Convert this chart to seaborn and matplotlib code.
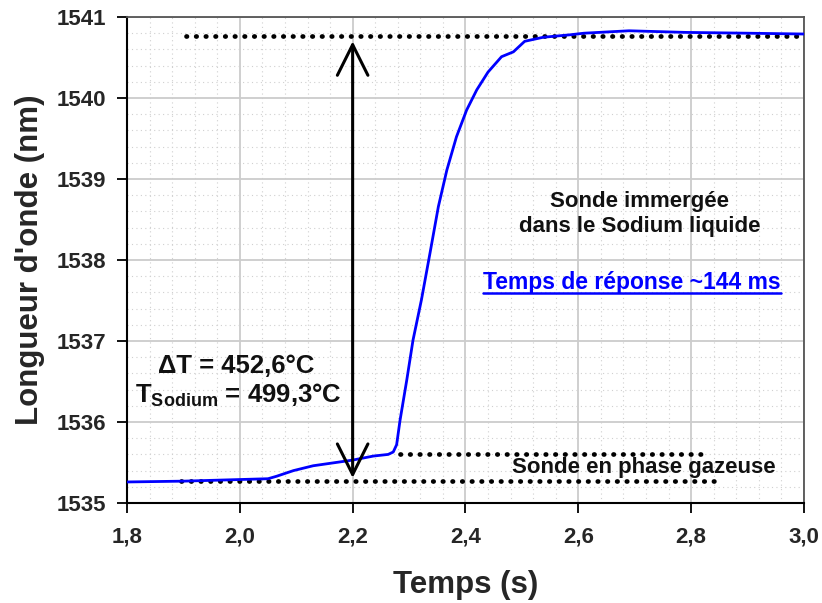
import numpy as np
import pandas as pd
import matplotlib
matplotlib.use("Agg")
import matplotlib.pyplot as plt
from matplotlib.lines import Line2D
from matplotlib.ticker import MultipleLocator
import seaborn as sns

# -----------------------------------------------------------
# Data
# -----------------------------------------------------------
temps = [1.80, 1.90, 2.05, 2.065, 2.095, 2.13, 2.20, 2.237, 2.263, 2.272,
         2.278, 2.284, 2.296, 2.307, 2.322, 2.337, 2.352, 2.367, 2.384,
         2.402, 2.420, 2.440, 2.464, 2.485, 2.505, 2.538, 2.585, 2.61,
         2.69, 2.79, 2.90, 3.00]
longueur = [1535.26, 1535.27, 1535.30, 1535.33, 1535.40, 1535.46, 1535.53,
            1535.58, 1535.60, 1535.63, 1535.72, 1536.02, 1536.52, 1537.01,
            1537.51, 1538.08, 1538.66, 1539.11, 1539.52, 1539.85, 1540.10,
            1540.32, 1540.51, 1540.57, 1540.70, 1540.75, 1540.78, 1540.80,
            1540.83, 1540.81, 1540.80, 1540.79]

niveau_liquide = 1540.77      # dotted line, top
niveau_gaz_bas = 1535.27      # dotted line, bottom
niveau_gaz_haut = 1535.61     # short dotted line
xticks = [1.8, 2.0, 2.2, 2.4, 2.6, 2.8, 3.0]
xtick_labels = ["1,8", "2,0", "2,2", "2,4", "2,6", "2,8", "3,0"]
yticks = [1535, 1536, 1537, 1538, 1539, 1540, 1541]

df = pd.DataFrame({"t": temps, "wl": longueur})

# -----------------------------------------------------------
# Style
# -----------------------------------------------------------
sns.set_theme(style="white")
plt.rcParams["font.family"] = ["Liberation Sans", "DejaVu Sans"]
plt.rcParams["font.weight"] = "bold"
plt.rcParams["mathtext.fontset"] = "custom"
plt.rcParams["mathtext.bf"] = "Liberation Sans:bold"
plt.rcParams["mathtext.rm"] = "Liberation Sans:bold"

fig = plt.figure(figsize=(8.22, 6.03), dpi=100)
ax = fig.add_axes([0.1545, 0.1658, 0.8235, 0.806])

# grid
ax.xaxis.set_minor_locator(MultipleLocator(0.04))
ax.yaxis.set_minor_locator(MultipleLocator(0.2))
ax.grid(which="major", color="#cccccc", lw=1.3, ls="-")
ax.grid(which="minor", color="#d0d0d0", lw=0.8, ls=(0, (1, 3)))
ax.set_axisbelow(True)

# curve
sns.lineplot(data=df, x="t", y="wl", ax=ax, color="#0000ff", lw=2,
             sort=False, estimator=None, zorder=4)

# dotted reference lines
dot = dict(color="black", lw=3.4, ls=(0, (0.1, 1.95)), dash_capstyle="round", zorder=3)
ax.plot([1.905, 3.0], [niveau_liquide] * 2, **dot)
ax.plot([1.895, 2.84], [niveau_gaz_bas] * 2, **dot)
ax.plot([2.284, 2.824], [niveau_gaz_haut] * 2, **dot)

# double arrow
ax.annotate("", xy=(2.2, 1540.70), xytext=(2.2, 1535.31),
            arrowprops=dict(arrowstyle="<->,head_length=1.1,head_width=0.55",
                            mutation_scale=20, lw=2.2, color="black",
                            shrinkA=0, shrinkB=0), zorder=5)

# texts
ax.text(2.709, 1538.57, "Sonde immergée\ndans le Sodium liquide", ha="center",
        va="center", fontsize=16, fontweight="bold", linespacing=1.25, color="#111111")
t_rep = ax.text(2.695, 1537.72, "Temps de réponse ~144 ms", ha="center", va="center",
                fontsize=16.5, fontweight="bold", color="#0000ff")
ax.text(1.993, 1536.69, "ΔT = 452,6°C", ha="center", va="center",
        fontsize=18.5, fontweight="bold", color="#111111")
ax.text(1.998, 1536.33, r"T$_{\mathbf{Sodium}}$ = 499,3°C", ha="center", va="center",
        fontsize=18.5, fontweight="bold", color="#111111")
ax.text(2.716, 1535.44, "Sonde en phase gazeuse", ha="center", va="center",
        fontsize=16, fontweight="bold", color="#111111", zorder=6)

# axes
ax.set_xlim(1.8, 3.0)
ax.set_ylim(1535, 1541)
ax.set_xticks(xticks)
ax.set_xticklabels(xtick_labels)
ax.set_yticks(yticks)
ax.tick_params(axis="both", which="major", direction="out", length=7, width=1.3,
               labelsize=16, color="black", bottom=True, left=True)
ax.tick_params(axis="x", pad=10)
ax.tick_params(axis="y", pad=8)
ax.tick_params(which="minor", length=0)
for lab in ax.get_xticklabels() + ax.get_yticklabels():
    lab.set_fontweight("bold")
ax.set_xlabel("Temps (s)", fontsize=22.5, fontweight="bold", labelpad=16)
ax.set_ylabel("Longueur d'onde (nm)", fontsize=22.5, fontweight="bold", labelpad=8)

for side in ["left", "bottom"]:
    ax.spines[side].set_color("black")
    ax.spines[side].set_linewidth(1.5)
for side in ["top", "right"]:
    ax.spines[side].set_color("#555555")
    ax.spines[side].set_linewidth(1.3)

# underline for the blue text
fig.canvas.draw()
bb = t_rep.get_window_extent()
inv = fig.transFigure.inverted()
(x0, y0), (x1, _) = inv.transform([(bb.x0, bb.y0 + 1), (bb.x1, bb.y0 + 1)])
fig.add_artist(Line2D([x0, x1], [y0, y0], color="#0000ff", lw=1.8))

plt.savefig("out.png", dpi=100)
